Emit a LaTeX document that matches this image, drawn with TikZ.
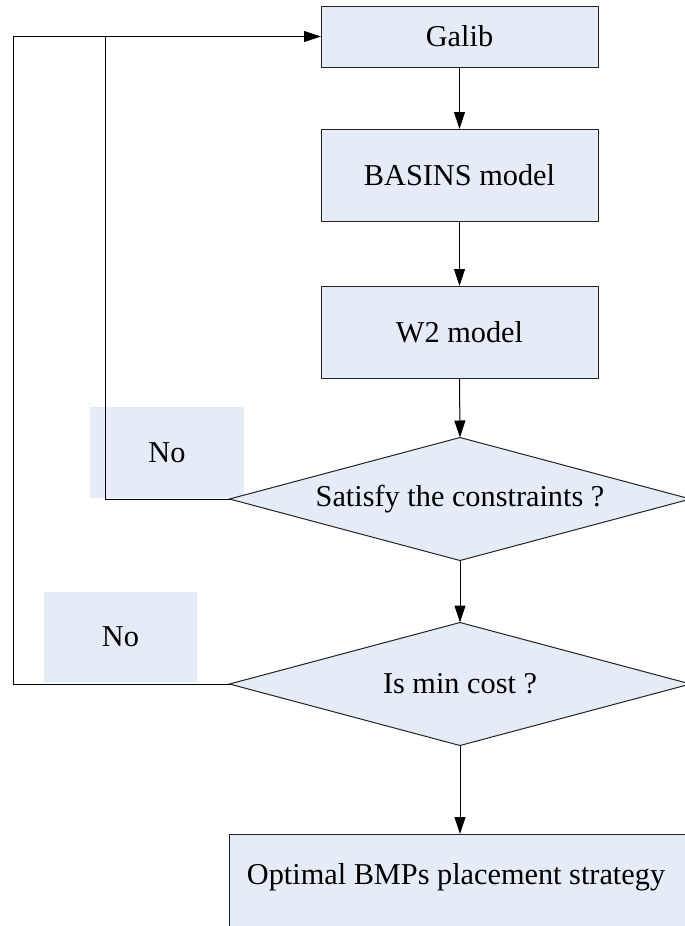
\documentclass[tikz,border=0pt]{standalone}
\usepackage{fontspec}
\setmainfont{Liberation Serif}
\usetikzlibrary{shapes.geometric,arrows.meta}
\definecolor{boxfill}{RGB}{230,236,247}
\definecolor{edge}{RGB}{35,35,35}
\begin{document}
\begin{tikzpicture}[x=1pt,y=-1pt,
  every node/.style={font=\fontsize{30.3}{36}\selectfont, inner sep=0pt, outer sep=0pt},
  procbox/.style={draw=edge, fill=boxfill, line width=1pt, rectangle, minimum width=277pt},
  decide/.style={draw=edge, fill=boxfill, line width=1pt, diamond, aspect=3.74, minimum width=461pt, minimum height=123pt},
  nolabel/.style={fill=boxfill, rectangle},
  flow/.style={draw=black, line width=1pt, -{Triangle[length=17pt,width=11pt]}},
  plainline/.style={draw=black, line width=1pt}]
\useasboundingbox (0,0) rectangle (685,926);
\clip (0,0) rectangle (685,926);
\fill[white] (0,0) rectangle (685,926);
% "No" label patches
\node[nolabel, minimum width=154pt, minimum height=91pt] (no1) at (167,452.5) {No};
\node[nolabel, minimum width=153pt, minimum height=90pt] (no2) at (120.5,637) {No};
% process boxes
\node[procbox, minimum height=61pt] (galib) at (459.5,36.5) {Galib};
\node[procbox, minimum height=92pt] (basins) at (459.5,175) {BASINS model};
\node[procbox, minimum height=92pt] (wtwo) at (459.5,332) {W2 model};
% decisions
\node[decide] (d1) at (460,499) {Satisfy the constraints ?};
\node[decide] (d2) at (460,684) {Is min cost ?};
% final box
\node[procbox, minimum width=462pt, minimum height=100pt, anchor=north] (final) at (460,834) {};
\node (finaltext) at (456,877) {Optimal BMPs placement strategy};
% loop corner coordinates
\coordinate (c1) at (105,36.5);
\coordinate (c2) at (13,36.5);
% main flow
\draw[flow] (galib.south) -- (basins.north);
\draw[flow] (basins.south) -- (wtwo.north);
\draw[flow] (wtwo.south) -- (d1.north);
\draw[flow] (d1.south) -- (d2.north);
\draw[flow] (d2.south) -- (final.north);
% feedback loops
\draw[plainline] (d1.west) -| (c1);
\draw[flow] (d2.west) -| (c2) -- (galib.west);
\end{tikzpicture}
\end{document}
